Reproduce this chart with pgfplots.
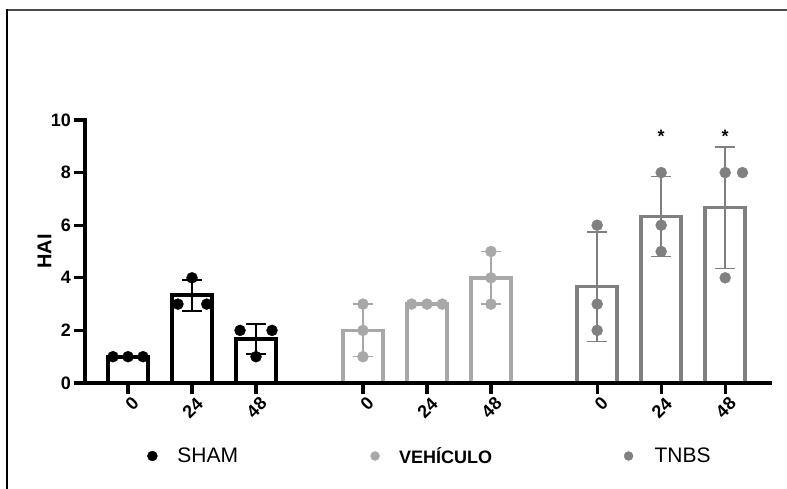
\documentclass[border=0pt]{standalone}
\usepackage{fontspec}
\setmainfont{Liberation Sans}
\usepackage{pgfplots}
\pgfplotsset{compat=1.18}

\definecolor{shamc}{RGB}{0,0,0}
\definecolor{vehc}{RGB}{168,168,170}
\definecolor{tnbsc}{RGB}{128,128,128}

\newcommand{\tickfont}{\bfseries\fontsize{18}{18}\selectfont}

\begin{document}
\begin{tikzpicture}
% page frame (top and left edges only)
\path[use as bounding box] (-85pt,-106pt) rectangle (702pt,383pt);
\draw[line width=1.4pt, black!70] (-79pt,373pt) -- (702pt,373pt);
\draw[line width=1.4pt, black] (-78pt,373.7pt) -- (-78pt,-106pt);

\begin{axis}[
  at={(0pt,0pt)}, anchor=south west,
  scale only axis, width=685pt, height=263pt,
  xmin=-0.672, xmax=10.03, ymin=0, ymax=10,
  axis x line=bottom, axis y line=left,
  axis line style={line width=3.5pt, -, line cap=rect},
  axis on top,
  ytick={0,2,4,6,8,10},
  xtick={0,1,2,3.67,4.67,5.67,7.33,8.33,9.33},
  xticklabels={0,24,48,0,24,48,0,24,48},
  tick align=outside, major tick length=11pt,
  every tick/.style={line width=3.2pt, black},
  /pgf/number format/assume math mode=true,
  ticklabel style={font=\tickfont},
  xticklabel style={rotate=45, anchor=east, inner sep=0pt, yshift=-10pt, xshift=1pt},
  yticklabel style={inner sep=0pt, xshift=-3pt},
  ylabel={HAI},
  every axis y label/.style={at={(axis description cs:-0.0591,0.5)}, rotate=90, anchor=center, font=\bfseries\fontsize{20}{20}\selectfont},
  legend columns=3,
  legend style={draw=none, fill=none, at={(0.0905,-0.2776)}, anchor=west, inner sep=0pt, column sep=0pt,
    nodes={inner sep=0pt}},
  legend cell align=left,
]

% bars (group means)
\addplot[ybar, bar width=40pt, bar shift=0pt, draw=shamc, fill=white, line width=4pt, forget plot]
  coordinates {(0,1) (1,3.333) (2,1.667)};
\addplot[ybar, bar width=40pt, bar shift=0pt, draw=vehc, fill=white, line width=3.6pt, forget plot]
  coordinates {(3.67,2) (4.67,3) (5.67,4)};
\addplot[ybar, bar width=40pt, bar shift=0pt, draw=tnbsc, fill=white, line width=3.6pt, forget plot]
  coordinates {(7.33,3.667) (8.33,6.333) (9.33,6.667)};

% standard deviations
\addplot[forget plot, draw=none, mark=none,
  error bars/.cd, y dir=both, y explicit,
  error bar style={draw=shamc, line width=2pt},
  error mark options={draw=shamc, line width=2pt, mark size=10pt, rotate=90}]
  coordinates {(0,1) +- (0,0) (1,3.333) +- (0,0.577) (2,1.667) +- (0,0.577)};
\addplot[forget plot, draw=none, mark=none,
  error bars/.cd, y dir=both, y explicit,
  error bar style={draw=vehc, line width=1.5pt},
  error mark options={draw=vehc, line width=1.5pt, mark size=10pt, rotate=90}]
  coordinates {(3.67,2) +- (0,1) (4.67,3) +- (0,0) (5.67,4) +- (0,1)};
\addplot[forget plot, draw=none, mark=none,
  error bars/.cd, y dir=both, y explicit,
  error bar style={draw=tnbsc, line width=1.5pt},
  error mark options={draw=tnbsc, line width=1.5pt, mark size=10pt, rotate=90}]
  coordinates {(7.33,3.667) +- (0,2.082) (8.33,6.333) +- (0,1.528) (9.33,6.667) +- (0,2.309)};

% individual animals
\addplot[only marks, mark=*, mark size=5.5pt, color=shamc,
  legend image code/.code={\fill[shamc] (0pt,0pt) circle (5pt); \path[draw=none, fill=none] (-5pt,0pt) rectangle (25pt,0.1pt);}]
  coordinates {(-0.234,1) (0,1) (0.234,1) (1,4) (0.78,3) (1.23,3) (1.75,2) (2.25,2) (2,1)};
\addlegendentry{\fontsize{21}{21}\selectfont SHAM\hspace*{132pt}}
\addplot[only marks, mark=*, mark size=5.5pt, color=vehc,
  legend image code/.code={\fill[vehc] (0pt,0pt) circle (4.5pt); \path[draw=none, fill=none] (-5pt,0pt) rectangle (24pt,0.1pt);}]
  coordinates {(3.67,3) (3.67,2) (3.67,1) (4.43,3) (4.67,3) (4.91,3) (5.67,5) (5.67,4) (5.67,3)};
\addlegendentry{\bfseries\fontsize{18}{18}\selectfont VEHÍCULO\hspace*{131.5pt}}
\addplot[only marks, mark=*, mark size=5.5pt, color=tnbsc,
  legend image code/.code={\fill[tnbsc] (0pt,0pt) circle (4.5pt); \path[draw=none, fill=none] (-5pt,0pt) rectangle (26pt,0.1pt);}]
  coordinates {(7.33,6) (7.33,3) (7.33,2) (8.33,8) (8.33,6) (8.33,5) (9.33,8) (9.6,8) (9.33,4)};
\addlegendentry{\fontsize{21}{21}\selectfont TNBS}

% significance marks
\node[font=\bfseries\fontsize{18}{18}\selectfont] at (axis cs:8.33,9.39) {*};
\node[font=\bfseries\fontsize{18}{18}\selectfont] at (axis cs:9.33,9.39) {*};
\end{axis}
\end{tikzpicture}
\end{document}
